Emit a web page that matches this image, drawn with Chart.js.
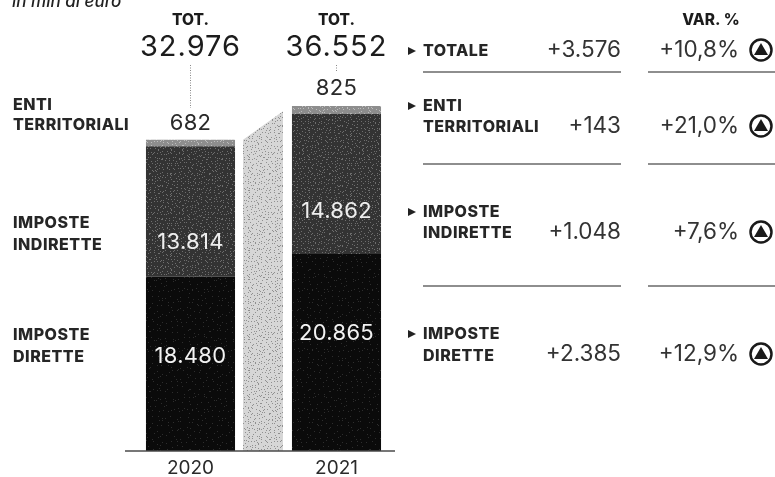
<!DOCTYPE html>
<html>
<head>
<meta charset="utf-8">
<title>Entrate tributarie 2020-2021</title>
<style>
  html, body { margin: 0; padding: 0; background: #fff; }
  canvas { display: block; }
</style>
<script src="https://cdn.jsdelivr.net/npm/chart.js"></script>
</head>
<body>
<canvas id="myChart" width="775" height="477"></canvas>
<script>
// Setup
const years = ['2020', '2021'];
const imposteDirette = [18480, 20865];
const imposteIndirette = [13814, 14862];
const entiTerritoriali = [682, 825];
const totali = [32976, 36552];
// level of the sloped band at its left and right end
const fasciaTop = [32976, 36000];

const rowNames = [['TOTALE'], ['ENTI', 'TERRITORIALI'], ['IMPOSTE', 'INDIRETTE'], ['IMPOSTE', 'DIRETTE']];
const rowDiff = [3576, 143, 1048, 2385];
const rowVar = [10.8, 21.0, 7.6, 12.9];

const leftNames = [['ENTI', 'TERRITORIALI'], ['IMPOSTE', 'INDIRETTE'], ['IMPOSTE', 'DIRETTE']];

const FONT = 'Inter, "Liberation Sans", sans-serif';

function fmt(n) {
  return String(n).replace(/\B(?=(\d{3})+$)/g, '.');
}

// speckled fill for the bars, the dots are a fixed sequence so every render is the same
function speckle(base, dot, step, size) {
  const c = document.createElement('canvas');
  c.width = c.height = 60;
  const g = c.getContext('2d');
  g.fillStyle = base;
  g.fillRect(0, 0, 60, 60);
  g.fillStyle = dot;
  let s = 17;
  for (let y = 0; y < 60; y += step) {
    for (let x = 0; x < 60; x += step) {
      s = (s * 137 + 59) % 1009;
      g.fillRect(x + s % step, y + (s >> 3) % step, size, size);
    }
  }
  return g.createPattern(c, 'repeat');
}

const fillDirette = speckle('#0b0b0b', '#2e2e2e', 5, 1);
const fillIndirette = speckle('#333333', '#6e6e6e', 3, 1);
const fillEnti = speckle('#8d8d8d', '#bdbdbd', 3, 1);
const fillFascia = speckle('#d6d6d6', '#8f8f8f', 3, 1);

function text(ctx, str, x, y, size, weight, color, align, spacing) {
  ctx.font = weight + ' ' + size + 'px ' + FONT;
  ctx.fillStyle = color;
  ctx.textAlign = align || 'left';
  ctx.textBaseline = 'middle';
  ctx.letterSpacing = (spacing || 0) + 'px';
  ctx.fillText(str, x, y);
  ctx.letterSpacing = '0px';
}

// sloped band between the two bars and the extended baseline
const bandPlugin = {
  id: 'band',
  beforeDatasetsDraw(chart) {
    const { ctx, scales } = chart;
    const bars = chart.getDatasetMeta(0).data;
    const left = bars[0].x + bars[0].width / 2 + 8;
    const right = bars[1].x - bars[1].width / 2 - 9;
    const y = scales.y;
    ctx.save();
    ctx.fillStyle = fillFascia;
    ctx.beginPath();
    ctx.moveTo(left, y.getPixelForValue(0));
    ctx.lineTo(left, y.getPixelForValue(fasciaTop[0]));
    ctx.lineTo(right, y.getPixelForValue(fasciaTop[1]));
    ctx.lineTo(right, y.getPixelForValue(0));
    ctx.closePath();
    ctx.fill();
    ctx.restore();
  },
  afterDatasetsDraw(chart) {
    const { ctx, scales } = chart;
    const bars = chart.getDatasetMeta(0).data;
    const base = scales.y.getPixelForValue(0);
    ctx.save();
    ctx.strokeStyle = '#4a4a4a';
    ctx.lineWidth = 1.5;
    ctx.beginPath();
    ctx.moveTo(bars[0].x - bars[0].width / 2 - 21, base);
    ctx.lineTo(bars[1].x + bars[1].width / 2 + 14, base);
    ctx.stroke();
    ctx.restore();
  }
};

// value labels, totals and the table on the right
const labelPlugin = {
  id: 'labels',
  afterDraw(chart) {
    const { ctx } = chart;
    const bars = chart.getDatasetMeta(0).data;
    ctx.save();

    // unit line runs off the top edge
    ctx.font = 'italic 500 17px ' + FONT;
    ctx.fillStyle = '#222';
    ctx.textAlign = 'left';
    ctx.textBaseline = 'alphabetic';
    ctx.fillText('in mln di euro', 12, 7);

    const direttaY = [356, 333];
    const indirettaY = [242, 211];
    const entiY = [123, 88];
    const dashEnd = [108, 72];
    bars.forEach((bar, i) => {
      text(ctx, 'TOT.', bar.x, 20, 15.5, 800, '#1c1c1c', 'center');
      text(ctx, fmt(totali[i]), bar.x, 47, 29, 400, '#1c1c1c', 'center', 1);
      text(ctx, fmt(entiTerritoriali[i]), bar.x, entiY[i], 22, 400, '#2a2a2a', 'center', 0.3);
      text(ctx, fmt(imposteIndirette[i]), bar.x, indirettaY[i], 22, 400, '#eeeeee', 'center', 0.3);
      text(ctx, fmt(imposteDirette[i]), bar.x, direttaY[i], 22, 400, '#f2f2f2', 'center', 0.3);

      ctx.strokeStyle = '#8a8a8a';
      ctx.lineWidth = 1;
      ctx.setLineDash([1, 1.5]);
      ctx.beginPath();
      ctx.moveTo(bar.x, 65);
      ctx.lineTo(bar.x, dashEnd[i]);
      ctx.stroke();
      ctx.setLineDash([]);
    });

    // names left of the bars
    const leftY = [[105, 125], [223, 245], [335, 357]];
    leftNames.forEach((lines, i) => {
      lines.forEach((line, j) => {
        text(ctx, line, 13, leftY[i][j], 16, 800, '#262626', 'left', 0.5);
      });
    });

    // table
    const nameY = [[51], [106, 127], [212, 233], [334, 356]];
    const numY = [50, 126, 232, 354];
    const ruleY = [72, 164, 286];
    text(ctx, 'VAR. %', 711, 20, 15.5, 800, '#1c1c1c', 'center');
    rowNames.forEach((lines, i) => {
      const ty = nameY[i][0];
      ctx.fillStyle = '#222';
      ctx.beginPath();
      ctx.moveTo(408, ty - 4);
      ctx.lineTo(416, ty);
      ctx.lineTo(408, ty + 4);
      ctx.closePath();
      ctx.fill();

      lines.forEach((line, j) => {
        text(ctx, line, 423, nameY[i][j], 16, 800, '#262626', 'left', 0.5);
      });
      text(ctx, '+' + fmt(rowDiff[i]), 621, numY[i], 22.5, 400, '#333', 'right');
      text(ctx, '+' + rowVar[i].toFixed(1).replace('.', ',') + '%', 739, numY[i], 22.5, 400, '#333', 'right');

      // arrow in a ring
      const cy = numY[i];
      ctx.strokeStyle = '#1a1a1a';
      ctx.lineWidth = 2.5;
      ctx.beginPath();
      ctx.arc(761, cy, 10.5, 0, Math.PI * 2);
      ctx.stroke();
      ctx.fillStyle = '#1a1a1a';
      ctx.beginPath();
      ctx.moveTo(761, cy - 7);
      ctx.lineTo(768, cy + 5);
      ctx.lineTo(754, cy + 5);
      ctx.closePath();
      ctx.fill();
    });
    ctx.strokeStyle = '#6a6a6a';
    ctx.lineWidth = 1.5;
    ruleY.forEach(y => {
      ctx.beginPath();
      ctx.moveTo(423, y);
      ctx.lineTo(621, y);
      ctx.moveTo(648, y);
      ctx.lineTo(775, y);
      ctx.stroke();
    });
    ctx.restore();
  }
};

const data = {
  labels: years,
  datasets: [
    { label: 'Imposte dirette', data: imposteDirette, backgroundColor: fillDirette },
    { label: 'Imposte indirette', data: imposteIndirette, backgroundColor: fillIndirette },
    { label: 'Enti territoriali', data: entiTerritoriali, backgroundColor: fillEnti }
  ]
};

// Config
const config = {
  type: 'bar',
  data: data,
  plugins: [bandPlugin, labelPlugin],
  options: {
    responsive: false,
    animation: false,
    layout: { padding: { left: 117.5, right: 365.5, top: 0, bottom: 0 } },
    plugins: { legend: { display: false }, tooltip: { enabled: false } },
    datasets: { bar: { categoryPercentage: 1, barPercentage: 0.61, borderWidth: 0 } },
    scales: {
      x: {
        stacked: true,
        // keep the axis strip short so the bars sit on the right baseline
        afterFit(axis) { axis.height = 26; },
        grid: { display: false, drawTicks: false },
        border: { display: false },
        ticks: { color: '#2a2a2a', font: { family: FONT, size: 19 }, padding: 6, maxRotation: 0 }
      },
      y: {
        stacked: true,
        display: false,
        min: 0,
        max: 47775
      }
    }
  }
};

const myChart = new Chart(document.getElementById('myChart'), config);
</script>
</body>
</html>
